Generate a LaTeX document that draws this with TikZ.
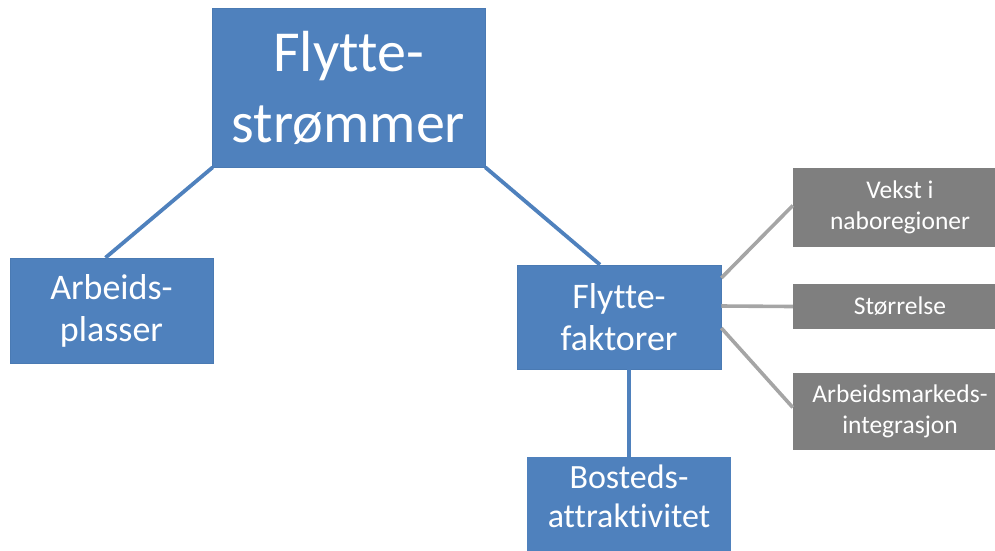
\documentclass[tikz,border=0pt]{standalone}
\usepackage{fontspec}
\setmainfont{Carlito}[Ligatures=NoCommon]
\definecolor{boxblue}{HTML}{4F81BD}
\definecolor{boxedge}{HTML}{4A7AB3}
\definecolor{boxgrey}{HTML}{7F7F7F}
\definecolor{linegrey}{HTML}{A5A5A5}
\begin{document}
\begin{tikzpicture}[x=1pt,y=-1pt,
  bluebox/.style={rectangle, fill=boxblue, draw=boxedge, line width=0.6pt, text=white, align=center, inner sep=0pt},
  greybox/.style={rectangle, fill=boxgrey, text=white, align=center, inner sep=0pt,
    minimum width=214pt, font=\fontsize{25.5}{31}\selectfont},
  midtext/.style={font=\fontsize{36}{42}\selectfont},
  blueline/.style={draw=boxblue, line width=3.8pt},
  greyline/.style={draw=linegrey, line width=3.6pt}]
\useasboundingbox (0,0) rectangle (995,550);

\node[bluebox, minimum width=273pt, minimum height=159pt,
  font=\fontsize{58}{71}\selectfont] (top) at (348.5,87.5) {Flytte-\\strømmer};
\node[bluebox, midtext, minimum width=203pt, minimum height=105pt] (arb) at (111.5,310.5) {\raisebox{-4pt}{Arbeids-}\\\raisebox{-4pt}{plasser}};
\node[bluebox, midtext, minimum width=204pt, minimum height=104pt] (ff) at (619,317) {Flytte-\\faktorer};
\node[bluebox, draw=none, minimum width=204pt, minimum height=78pt,
  font=\fontsize{34}{39}\selectfont] (bo) at (629,496) {Bosteds-\\attraktivitet};
\fill[boxblue] ([yshift=0.5pt]bo.south west) rectangle ([yshift=-20pt]bo.south east);

\node[greybox, minimum height=79pt] (vek) at (900,207.5) {Vekst i\\naboregioner};
\node[greybox, minimum height=45pt] (sto) at (900,306.5) {Størrelse};
\node[greybox, minimum height=77pt] (amk) at (900,411.5) {Arbeidsmarkeds-\\integrasjon};

\draw[blueline] ([xshift=1pt]top.south west) -- ([xshift=-6pt]arb.north);
\draw[blueline] (top.south east) -- ([xshift=-19pt]ff.north);
\draw[blueline] (bo.north |- ff.south) -- (bo.north);
\draw[greyline] ([yshift=39pt]ff.east) -- ([yshift=2pt]vek.west);
\draw[greyline] ([yshift=11pt]ff.east) -- (sto.west);
\draw[greyline] ([yshift=-11pt]ff.east) -- ([yshift=4pt]amk.west);
\end{tikzpicture}
\end{document}
